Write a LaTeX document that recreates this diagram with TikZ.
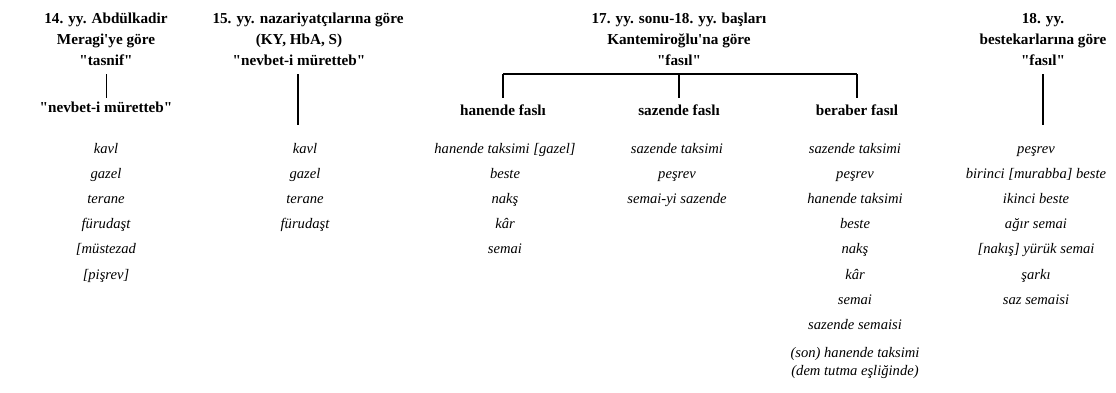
\documentclass[tikz,border=0pt]{standalone}
\usepackage{fontspec}
\setmainfont{Liberation Serif}[Ligatures=TeXOff]
\begin{document}
\begin{tikzpicture}[x=1pt,y=1pt,
  ttl/.style={font=\fontsize{15.2}{20.8}\selectfont\bfseries, align=center, inner sep=0pt, anchor=base},
  sub/.style={font=\fontsize{15.2}{18}\selectfont\bfseries, inner sep=0pt, anchor=base},
  itm/.style={font=\fontsize{14.6}{18}\selectfont\itshape, inner sep=0pt, anchor=base, align=center},
  thin/.style={line width=1pt},
  thick/.style={line width=1.6pt}]
\useasboundingbox (0,0) rectangle (1116,-392);
% titles (anchor base = baseline of the last line)
\node[ttl] (t1) at (106,-65) {14. yy. Abdülkadir\\Meragi'ye göre\\"tasnif"};
\node[ttl] (t2) at (299,-65) {\hspace*{18pt}15. yy. nazariyatçılarına göre\\(KY, HbA, S)\\"nevbet-i müretteb"};
\node[ttl] (t3) at (679,-65) {17. yy. sonu-18. yy. başları\\Kantemiroğlu'na göre\\"fasıl"};
\node[ttl] (t4) at (1043,-65) {18. yy.\\bestekarlarına göre\\"fasıl"};
% subheads
\node[sub] (s1) at (106,-112) {"nevbet-i müretteb"};
\node[sub] (s3a) at (503,-115) {hanende faslı};
\node[sub] (s3b) at (679,-115) {sazende faslı};
\node[sub] (s3c) at (857,-115) {beraber fasıl};
% connectors
\coordinate (e2) at (298,-125);
\coordinate (e4) at (1043,-125);
\coordinate (b3) at (679,-74);
\draw[thin] (s1.north |- 0,-74) -- (s1.north |- 0,-98);
\draw[thick] (e2 |- b3) -- (e2);
\draw[thick] (e4 |- b3) -- (e4);
\draw[thick] (s3a.north |- b3) -- (s3c.north |- b3);
\draw[thick] (s3a.north |- b3) -- ([yshift=-24pt]s3a.north |- b3);
\draw[thick] (b3) -- ([yshift=-24pt]b3);
\draw[thick] (s3c.north |- b3) -- ([yshift=-24pt]s3c.north |- b3);
% items
\foreach \t [count=\i] in {kavl,gazel,terane,fürudaşt,[müstezad,[pişrev]}
  \node[itm] (i1-\i) at (106,{-153-25.2*(\i-1)}) {\t};
\foreach \t [count=\i] in {kavl,gazel,terane,fürudaşt}
  \node[itm] (i2-\i) at (305,{-153-25.2*(\i-1)}) {\t};
\foreach \t [count=\i] in {hanende taksimi [gazel],beste,nakş,kâr,semai}
  \node[itm] (i3a-\i) at (505,{-153-25.2*(\i-1)}) {\t};
\foreach \t [count=\i] in {sazende taksimi,peşrev,semai-yi sazende}
  \node[itm] (i3b-\i) at (677,{-153-25.2*(\i-1)}) {\t};
\foreach \t [count=\i] in {sazende taksimi,peşrev,hanende taksimi,beste,nakş,kâr,semai,sazende semaisi}
  \node[itm] (i3c-\i) at (855,{-153-25.2*(\i-1)}) {\t};
\node[itm] (i3c-9) at (855,-375) {(son) hanende taksimi\\(dem tutma eşliğinde)};
\foreach \t [count=\i] in {peşrev,birinci [murabba] beste,ikinci beste,ağır semai,[nakış] yürük semai,şarkı,saz semaisi}
  \node[itm] (i4-\i) at (1036,{-153-25.2*(\i-1)}) {\t};
\end{tikzpicture}
\end{document}
